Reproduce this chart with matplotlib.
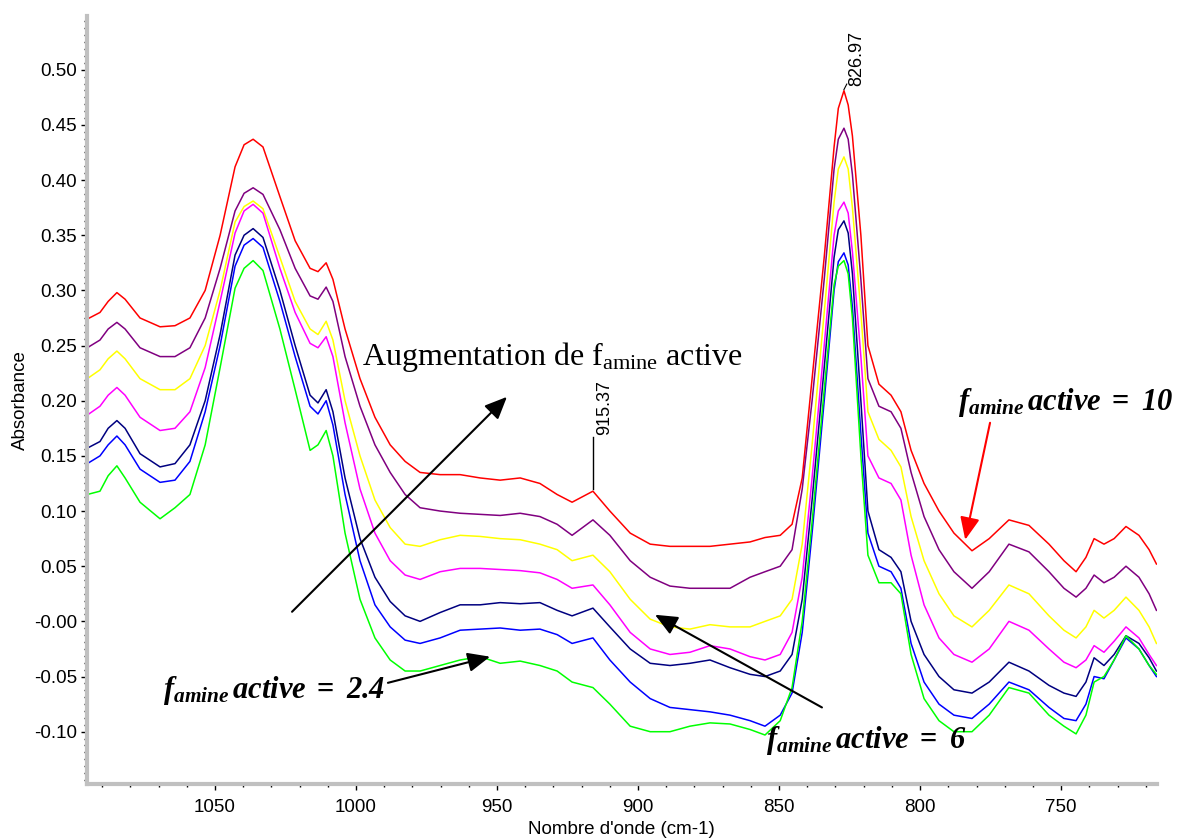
import matplotlib.pyplot as plt
from matplotlib.ticker import MultipleLocator

plt.rcParams['font.family'] = 'Liberation Sans'
plt.rcParams['mathtext.fontset'] = 'custom'
plt.rcParams['mathtext.rm'] = 'Liberation Serif'
plt.rcParams['mathtext.it'] = 'Liberation Serif:italic'
plt.rcParams['mathtext.bf'] = 'Liberation Serif:bold'
plt.rcParams['mathtext.bfit'] = 'Liberation Serif:italic:bold'

# nombre d'onde (cm-1), grille commune
wn = [1095.3, 1090.8, 1087.9, 1084.8, 1081.9, 1076.6, 1069.5, 1064.2, 1058.9, 1053.5,
      1048.2, 1042.9, 1039.7, 1036.5, 1033.0, 1027.0, 1021.6, 1016.3, 1013.5, 1010.6,
      1008.2, 1003.9, 998.6, 993.3, 987.9, 982.6, 977.3, 970.2, 963.1, 956.0,
      948.9, 941.8, 934.8, 928.7, 923.4, 916.0, 910.0, 902.8, 895.7, 888.7,
      881.6, 874.5, 867.4, 860.3, 855.0, 849.6, 845.4, 841.8, 838.3, 834.0,
      830.5, 829.0, 827.0, 825.5, 824.0, 821.0, 818.5, 814.6, 810.3, 806.8,
      803.2, 798.6, 793.3, 788.0, 781.6, 775.5, 768.5, 761.4, 754.3, 749.0,
      744.7, 741.2, 738.3, 734.8, 731.2, 727.0, 722.4, 718.8, 716.2]

# absorbances (f amine active = 10 en haut ... 2.4 en bas)
a_red = [0.274, 0.280, 0.290, 0.298, 0.292, 0.275, 0.267, 0.268, 0.275, 0.300,
         0.350, 0.412, 0.432, 0.437, 0.430, 0.385, 0.345, 0.320, 0.317, 0.325,
         0.310, 0.265, 0.220, 0.185, 0.160, 0.145, 0.135, 0.133, 0.133, 0.130,
         0.128, 0.130, 0.125, 0.115, 0.108, 0.118, 0.100, 0.080, 0.070, 0.068,
         0.068, 0.068, 0.070, 0.072, 0.076, 0.078, 0.088, 0.130, 0.220, 0.330,
         0.430, 0.465, 0.481, 0.468, 0.440, 0.350, 0.250, 0.215, 0.205, 0.190,
         0.155, 0.125, 0.100, 0.080, 0.064, 0.075, 0.092, 0.087, 0.070, 0.055,
         0.045, 0.058, 0.075, 0.070, 0.075, 0.086, 0.078, 0.065, 0.052]
a_purple = [0.248, 0.255, 0.265, 0.271, 0.265, 0.248, 0.240, 0.240, 0.248, 0.275,
            0.320, 0.372, 0.388, 0.393, 0.387, 0.355, 0.320, 0.295, 0.292, 0.303,
            0.290, 0.240, 0.195, 0.160, 0.135, 0.115, 0.103, 0.100, 0.098, 0.097,
            0.096, 0.098, 0.095, 0.088, 0.078, 0.092, 0.078, 0.055, 0.040, 0.032,
            0.030, 0.030, 0.030, 0.040, 0.045, 0.050, 0.065, 0.120, 0.200, 0.310,
            0.410, 0.437, 0.447, 0.437, 0.405, 0.310, 0.220, 0.195, 0.190, 0.175,
            0.135, 0.095, 0.065, 0.045, 0.030, 0.045, 0.070, 0.063, 0.045, 0.030,
            0.022, 0.030, 0.042, 0.035, 0.040, 0.050, 0.040, 0.025, 0.010]
a_yellow = [0.220, 0.228, 0.238, 0.245, 0.238, 0.220, 0.210, 0.210, 0.220, 0.250,
            0.300, 0.362, 0.376, 0.381, 0.374, 0.330, 0.290, 0.265, 0.260, 0.272,
            0.255, 0.200, 0.150, 0.110, 0.085, 0.070, 0.068, 0.074, 0.078, 0.077,
            0.075, 0.074, 0.070, 0.065, 0.055, 0.060, 0.045, 0.020, 0.002, -0.005,
            -0.007, -0.003, -0.005, -0.005, 0.000, 0.005, 0.020, 0.070, 0.160, 0.280,
            0.380, 0.410, 0.421, 0.410, 0.375, 0.280, 0.190, 0.165, 0.155, 0.140,
            0.095, 0.055, 0.025, 0.005, -0.005, 0.010, 0.033, 0.025, 0.005, -0.008,
            -0.015, -0.005, 0.010, 0.003, 0.010, 0.022, 0.010, -0.005, -0.020]
a_magenta = [0.187, 0.195, 0.205, 0.212, 0.205, 0.185, 0.173, 0.175, 0.190, 0.230,
             0.290, 0.352, 0.372, 0.378, 0.370, 0.320, 0.280, 0.252, 0.248, 0.258,
             0.240, 0.180, 0.120, 0.080, 0.055, 0.042, 0.038, 0.045, 0.048, 0.048,
             0.047, 0.046, 0.044, 0.038, 0.030, 0.033, 0.015, -0.010, -0.025, -0.030,
             -0.028, -0.022, -0.025, -0.032, -0.035, -0.030, -0.010, 0.040, 0.130, 0.250,
             0.350, 0.372, 0.380, 0.370, 0.335, 0.240, 0.150, 0.130, 0.125, 0.110,
             0.060, 0.015, -0.015, -0.030, -0.037, -0.025, 0.000, -0.008, -0.025, -0.037,
             -0.042, -0.035, -0.022, -0.028, -0.018, -0.005, -0.015, -0.030, -0.040]
a_navy = [0.157, 0.163, 0.175, 0.182, 0.175, 0.152, 0.140, 0.143, 0.160, 0.200,
          0.260, 0.332, 0.350, 0.356, 0.348, 0.300, 0.250, 0.205, 0.198, 0.210,
          0.190, 0.130, 0.075, 0.040, 0.018, 0.005, 0.000, 0.008, 0.015, 0.015,
          0.017, 0.016, 0.017, 0.010, 0.005, 0.012, -0.005, -0.025, -0.038, -0.040,
          -0.038, -0.035, -0.042, -0.048, -0.050, -0.045, -0.030, 0.020, 0.110, 0.230,
          0.330, 0.355, 0.363, 0.352, 0.315, 0.200, 0.100, 0.065, 0.058, 0.045,
          0.000, -0.030, -0.050, -0.062, -0.065, -0.055, -0.037, -0.045, -0.058, -0.065,
          -0.068, -0.055, -0.033, -0.040, -0.030, -0.013, -0.020, -0.033, -0.045]
a_blue = [0.143, 0.150, 0.160, 0.168, 0.160, 0.138, 0.126, 0.128, 0.145, 0.190,
          0.250, 0.322, 0.341, 0.347, 0.339, 0.290, 0.240, 0.195, 0.188, 0.200,
          0.178, 0.115, 0.055, 0.015, -0.005, -0.017, -0.020, -0.015, -0.008, -0.007,
          -0.006, -0.008, -0.007, -0.012, -0.020, -0.015, -0.035, -0.055, -0.070, -0.078,
          -0.080, -0.082, -0.085, -0.090, -0.095, -0.085, -0.065, -0.010, 0.080, 0.200,
          0.300, 0.326, 0.334, 0.323, 0.285, 0.170, 0.080, 0.050, 0.045, 0.030,
          -0.020, -0.055, -0.075, -0.085, -0.088, -0.075, -0.055, -0.062, -0.078, -0.088,
          -0.090, -0.075, -0.050, -0.052, -0.035, -0.015, -0.025, -0.040, -0.050]
a_green = [0.115, 0.118, 0.132, 0.141, 0.130, 0.108, 0.093, 0.103, 0.115, 0.160,
           0.230, 0.302, 0.320, 0.327, 0.318, 0.265, 0.210, 0.155, 0.160, 0.173,
           0.150, 0.080, 0.020, -0.015, -0.035, -0.045, -0.045, -0.040, -0.035, -0.032,
           -0.038, -0.036, -0.040, -0.045, -0.055, -0.060, -0.075, -0.095, -0.100, -0.100,
           -0.095, -0.092, -0.093, -0.098, -0.103, -0.090, -0.060, 0.000, 0.090, 0.210,
           0.305, 0.322, 0.327, 0.315, 0.275, 0.150, 0.060, 0.035, 0.035, 0.025,
           -0.030, -0.070, -0.090, -0.100, -0.100, -0.085, -0.060, -0.065, -0.085, -0.095,
           -0.102, -0.085, -0.055, -0.050, -0.035, -0.013, -0.025, -0.040, -0.048]

series = [a_red, a_purple, a_yellow, a_magenta, a_navy, a_blue, a_green]
colors = ['#ff0000', '#800080', '#ffff00', '#ff00ff', '#000080', '#0000ff', '#00ff00']

x_ticks = [1050, 1000, 950, 900, 850, 800, 750]
y_ticks = [-0.10, -0.05, 0.00, 0.05, 0.10, 0.15, 0.20, 0.25, 0.30, 0.35, 0.40, 0.45, 0.50]
y_tick_labels = ['-0.10', '-0.05', '-0.00', '0.05', '0.10', '0.15', '0.20', '0.25',
                 '0.30', '0.35', '0.40', '0.45', '0.50']

fig = plt.figure(figsize=(11.77, 8.4), dpi=100)
ax = fig.add_axes([87/1177, 56/840, 1070/1177, 768/840])

for y, c in zip(series, colors):
    ax.plot(wn, y, color=c, lw=1.1)

ax.set_xlim(1095.4, 716.0)
ax.set_ylim(-0.1474, 0.5487)

ax.set_xticks(x_ticks)
ax.xaxis.set_minor_locator(MultipleLocator(10))
ax.set_yticks(y_ticks)
ax.set_yticklabels(y_tick_labels)
ax.yaxis.set_minor_locator(MultipleLocator(0.00625))
ax.tick_params(which='major', direction='out', length=4, width=1, labelsize=13.5, pad=3)
ax.tick_params(which='minor', direction='out', length=2.5, width=1)
ax.tick_params(axis='x', which='major', pad=7)

for s in ['top', 'right']:
    ax.spines[s].set_visible(False)
for s in ['left', 'bottom']:
    ax.spines[s].set_color('#c0c0c0')
    ax.spines[s].set_linewidth(3)

fig.text(20/1177, 1 - 400/840, 'Absorbance', rotation=90, ha='center', va='center', fontsize=13.5)
fig.text(621/1177, 1 - 830/840, "Nombre d'onde (cm-1)", ha='center', va='center', fontsize=13.5)

# pics
ax.text(822.5, 0.485, '826.97', rotation=90, ha='center', va='bottom', fontsize=13)
ax.plot([827.0, 826.0], [0.482, 0.487], color='k', lw=0.8)
ax.text(911.9, 0.169, '915.37', rotation=90, ha='center', va='bottom', fontsize=13)
ax.plot([916.0, 916.0], [0.120, 0.167], color='k', lw=1)

# annotations
ax.text(997.9, 0.2325, r'Augmentation de f$_{\rm amine}$ active', family='Liberation Serif',
        fontsize=23, ha='left', va='baseline')
ax.text(786.5, 0.192, r'$\mathbfit{f}_{\mathbfit{amine}}\,\mathbfit{active}\ \mathbf{=}\ \mathbfit{10}$',
        fontsize=22, ha='left', va='baseline')
ax.text(1068.4, -0.069, r'$\mathbfit{f}_{\mathbfit{amine}}\,\mathbfit{active}\ \mathbf{=}\ \mathbfit{2.4}$',
        fontsize=22, ha='left', va='baseline')
ax.text(854.6, -0.1145, r'$\mathbfit{f}_{\mathbfit{amine}}\,\mathbfit{active}\ \mathbf{=}\ \mathbfit{6}$',
        fontsize=22, ha='left', va='baseline')

arrow_k = dict(arrowstyle='-|>,head_length=0.8,head_width=0.35', color='k', lw=1.5,
               mutation_scale=17, shrinkA=0, shrinkB=0)
arrow_r = dict(arrow_k, color='#ff0000')
ax.annotate('', xy=(946.5, 0.2035), xytext=(1022.7, 0.0087), arrowprops=arrow_k)
ax.annotate('', xy=(784.0, 0.074), xytext=(775.2, 0.180), arrowprops=arrow_r)
ax.annotate('', xy=(952.5, -0.032), xytext=(988.7, -0.0557), arrowprops=arrow_k)
ax.annotate('', xy=(894.0, 0.006), xytext=(834.8, -0.078), arrowprops=arrow_k)

fig.savefig('out.png', dpi=100)
